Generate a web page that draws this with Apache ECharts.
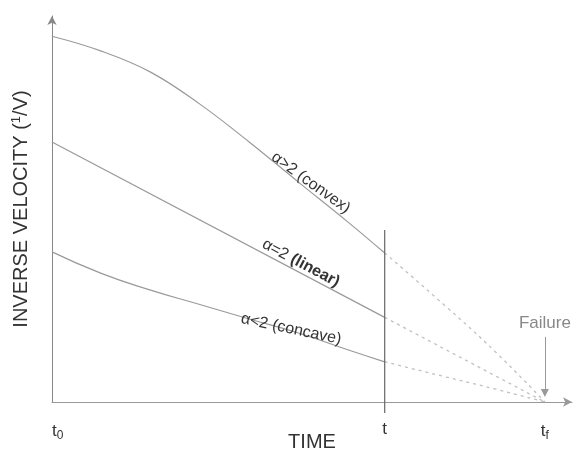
<!DOCTYPE html>
<html>
<head>
<meta charset="utf-8" />
<title></title>
<script type="text/javascript" src="https://cdn.jsdelivr.net/npm/echarts@6/dist/echarts.min.js"></script>
<style>
  html, body { margin: 0; padding: 0; background: #fff; }
  #chart { width: 576px; height: 450px; }
</style>
</head>
<body>
<div id="chart"></div>
<script type="text/javascript">
// time runs from t0 = 0 to failure tf = 1, t is "now"
var tNow = 0.675;
var tFail = 1;
var xSolid = [0, 0.1, 0.2, 0.3, 0.4, 0.5, 0.6, 0.675];
var xDash = [0.675, 0.8, 0.9, 1];

// inverse velocity (arbitrary units)
var convexSolid = [0.938, 0.900, 0.846, 0.764, 0.667, 0.564, 0.462, 0.382];
var convexDash = [0.382, 0.244, 0.128, 0];
var linearSolid = [0.667, 0.217];
var linearX = [0, 0.675];
var linearDash = [0.217, 0];
var linearDashX = [0.675, 1];
var concaveSolid = [0.385, 0.330, 0.287, 0.250, 0.213, 0.177, 0.134, 0.103];
var concaveDash = [0.103, 0.064, 0.033, 0];

var tickValues = [0, 0.675, 1];
var tickLabels = ['t{sub|0}', 't', 't{sub|f}'];

// label anchors [x, y, angle]
var convexLabel = [0.525, 0.562, -36];
var linearLabel = [0.505, 0.356, -28];
var concaveLabel = [0.485, 0.187, -12];

// failure arrow and t line (y range)
var failArrow = [0.167, 0.023];
var tLineY = [0.441, -0.028];

function pairs(xs, ys) {
  var out = [];
  for (var i = 0; i < xs.length; i++) out.push([xs[i], ys[i]]);
  return out;
}

var font = 'Liberation Sans, Arial, sans-serif';
var solidStyle = { color: '#9a9a9a', width: 1.2 };
var dashStyle = { color: '#c0c0c0', width: 1.3, type: [3, 4] };

function curveLabel(pos, text) {
  return {
    symbol: 'circle',
    symbolSize: 0,
    silent: true,
    data: [{
      coord: [pos[0], pos[1]],
      label: {
        show: true,
        position: 'inside',
        rotate: pos[2],
        formatter: text,
        color: '#333',
        fontSize: 16,
        fontFamily: font,
        rich: { b: { fontWeight: 'bold', fontSize: 16, color: '#333', fontFamily: font } }
      }
    }]
  };
}

var option = {
  animation: false,
  backgroundColor: '#fff',
  grid: { left: 52, right: 4, top: 16, bottom: 48, containLabel: false, outerBoundsMode: 'none' },
  xAxis: {
    type: 'value',
    min: 0,
    max: 1.055,
    splitLine: { show: false },
    axisLine: { lineStyle: { color: '#999', width: 1 }, symbol: ['none', 'arrow'], symbolSize: [7, 9] },
    axisTick: { show: false },
    axisLabel: {
      customValues: tickValues,
      margin: 19,
      alignMinLabel: 'left',
      fontSize: 17,
      fontFamily: font,
      color: '#333',
      formatter: function (v) {
        for (var i = 0; i < tickValues.length; i++) {
          if (Math.abs(v - tickValues[i]) < 1e-6) return tickLabels[i];
        }
        return '';
      },
      rich: { sub: { fontSize: 12, verticalAlign: 'bottom', padding: [9, 0, 0, 0], color: '#333', fontFamily: font } }
    },
    name: 'TIME',
    nameLocation: 'middle',
    nameGap: 30,
    nameMoveOverlap: false,
    nameTextStyle: { fontSize: 20, color: '#333', fontFamily: font }
  },
  yAxis: {
    type: 'value',
    min: 0,
    max: 0.99,
    splitLine: { show: false },
    axisLine: { show: true, lineStyle: { color: '#888', width: 1 }, symbol: ['none', 'arrow'], symbolSize: [7, 9] },
    axisTick: { show: false },
    axisLabel: { show: false },
    name: 'INVERSE VELOCITY ({sup|1}/V)',
    nameLocation: 'middle',
    nameRotate: 90,
    nameGap: 20,
    nameMoveOverlap: false,
    nameTextStyle: {
      fontSize: 20,
      color: '#333',
      fontFamily: font,
      rich: { sup: { fontSize: 13, verticalAlign: 'top', padding: [0, 0, 9, 0], color: '#333', fontFamily: font } }
    }
  },
  series: [
    {
      type: 'line', smooth: 0.4, symbol: 'none',
      data: pairs(xSolid, convexSolid), lineStyle: solidStyle,
      markPoint: curveLabel(convexLabel, '\u03b1>2 (convex)')
    },
    {
      type: 'line', smooth: true, symbol: 'none',
      data: pairs(xDash, convexDash), lineStyle: dashStyle
    },
    {
      type: 'line', symbol: 'none',
      data: pairs(linearX, linearSolid), lineStyle: solidStyle,
      markPoint: curveLabel(linearLabel, '\u03b1=2 {b|(linear)}')
    },
    {
      type: 'line', symbol: 'none',
      data: pairs(linearDashX, linearDash), lineStyle: dashStyle
    },
    {
      type: 'line', smooth: true, symbol: 'none',
      data: pairs(xSolid, concaveSolid), lineStyle: solidStyle,
      markPoint: curveLabel(concaveLabel, '\u03b1<2 (concave)')
    },
    {
      type: 'line', smooth: true, symbol: 'none',
      data: pairs(xDash, concaveDash), lineStyle: dashStyle,
      markLine: {
        silent: true,
        animation: false,
        data: [
          [
            {
              coord: [tFail, failArrow[0]], symbol: 'none',
              lineStyle: { color: '#999', width: 1, type: 'solid' },
              label: {
                show: true, position: 'start', formatter: 'Failure',
                color: '#888', fontSize: 17, fontFamily: font, distance: 5
              }
            },
            { coord: [tFail, failArrow[1]], symbol: 'triangle', symbolSize: [8, 8], symbolRotate: 180 }
          ]
        ]
      }
    },
    {
      // vertical line at the current time t
      type: 'line', symbol: 'none', clip: false, silent: true,
      data: pairs([tNow, tNow], tLineY),
      lineStyle: { color: '#666', width: 1.2 }
    }
  ]
};

var myChart = echarts.init(document.getElementById('chart'));
myChart.setOption(option);
</script>
</body>
</html>
